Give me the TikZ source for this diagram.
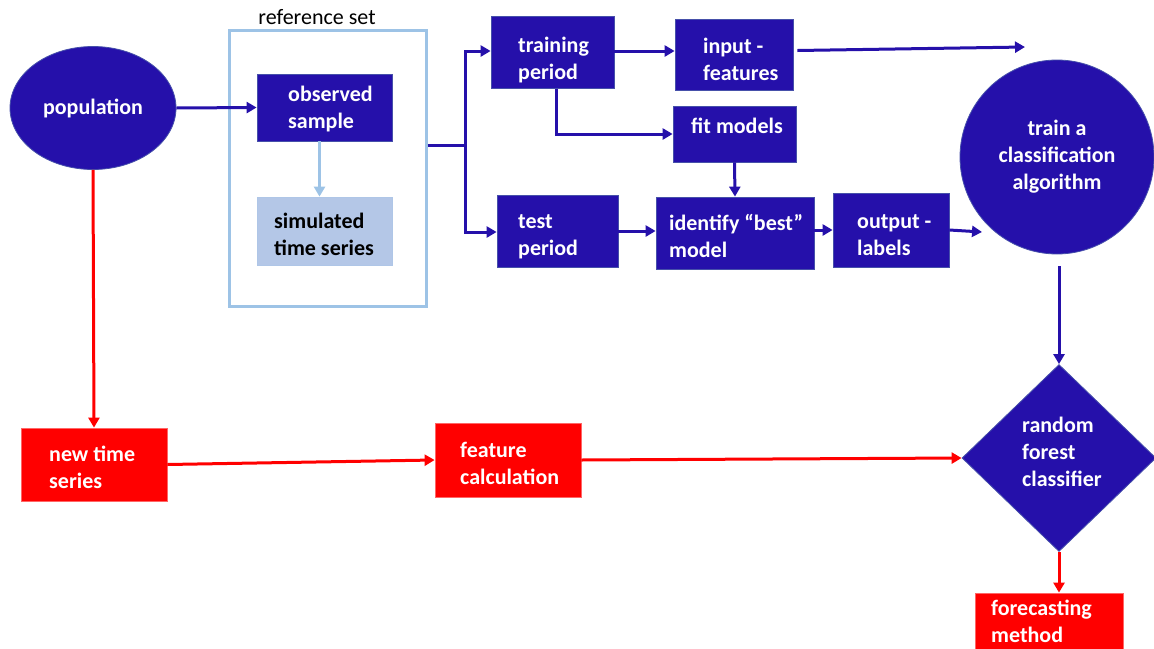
\documentclass[tikz,border=0pt]{standalone}
\usepackage{fontspec}
\setmainfont{Carlito}
\usetikzlibrary{shapes.geometric,arrows.meta,calc}
\definecolor{navy}{RGB}{37,16,170}
\definecolor{navyedge}{RGB}{70,80,170}
\definecolor{lblue}{RGB}{157,195,230}
\definecolor{simfill}{RGB}{180,199,231}
\definecolor{myred}{RGB}{255,0,0}
\tikzset{
  txt/.style={font=\bfseries\fontsize{22}{27}\selectfont, align=left, inner sep=0pt},
  wtxt/.style={txt, text=white, anchor=west},
  bluebox/.style={rectangle, fill=navy, draw=navyedge, line width=0.8pt, inner sep=0pt},
  redbox/.style={rectangle, fill=myred, draw=myred!60!white, line width=0.8pt, inner sep=0pt},
  arr/.style={line width=3pt, -{Triangle[length=10pt,width=11pt]}},
  bluearr/.style={arr, draw=navy},
  redarr/.style={arr, draw=myred},
}
\begin{document}
\begin{tikzpicture}[x=1pt,y=-1pt]
\useasboundingbox (0,0) rectangle (1154,648);
% shapes
\node[txt, ellipse, fill=navy, draw=navyedge, line width=0.8pt, text=white, align=center,
      minimum width=166pt, minimum height=123pt] (pop) at (93,108) {population};
\node[rectangle, draw=lblue, line width=3pt, minimum width=197pt, minimum height=276pt, inner sep=0pt] (ref) at (327.5,168) {};
\node[font=\fontsize{22}{26}\selectfont, inner sep=0pt] (reflab) at (317,17) {reference set};
\node[bluebox, minimum width=135pt, minimum height=67pt] (obs) at (324.5,107.5) {};
\node[rectangle, fill=simfill, draw=simfill!80!lblue, line width=0.8pt, inner sep=0pt,
      minimum width=135pt, minimum height=68pt] (sim) at (324.5,231) {};
\node[bluebox, minimum width=123pt, minimum height=72pt] (train) at (552.5,52) {};
\node[bluebox, minimum width=118pt, minimum height=71pt] (input) at (734,54.5) {};
\node[bluebox, minimum width=123pt, minimum height=56pt] (fit) at (734.5,134) {};
\node[bluebox, minimum width=121pt, minimum height=72pt] (test) at (557.5,231) {};
\node[bluebox, minimum width=158pt, minimum height=72pt] (ident) at (735,233) {};
\node[bluebox, minimum width=116pt, minimum height=74pt] (out) at (891,230) {};
\node[txt, circle, fill=navy, draw=navyedge, line width=0.8pt, text=white, align=center,
      minimum size=194pt] (tc) at (1057,157) {train a\\classification\\algorithm};
\node[diamond, fill=navy, draw=navyedge, line width=0.8pt, inner sep=0pt,
      minimum width=194pt, minimum height=187pt] (rf) at (1059,458) {};
\node[redbox, minimum width=146pt, minimum height=73pt] (newts) at (94,464.5) {};
\node[redbox, minimum width=146pt, minimum height=74pt] (feat) at (508,460) {};
\node[redbox, minimum width=148pt, minimum height=60pt] (fm) at (1049,623) {};
% texts
\node[wtxt] (obs-t) at (288,109) {observed\\sample};
\node[txt, anchor=west, text=black] (sim-t) at (274,234) {simulated\\time series};
\node[wtxt] (train-t) at (518,60) {training\\period};
\node[wtxt] (input-t) at (703,59) {input -\\features};
\node[wtxt] (fit-t) at (691,126) {fit models};
\node[wtxt] (test-t) at (518,237) {test\\period};
\node[wtxt] (ident-t) at (669,236) {identify “best”\\model};
\node[wtxt] (out-t) at (857,235) {output -\\labels};
\node[wtxt] (rf-t) at (1022,451.5) {random\\forest\\classifier};
\node[wtxt] (newts-t) at (49,467) {new time\\series};
\node[wtxt] (feat-t) at (460,463) {feature\\calculation};
\node[wtxt] (fm-t) at (991,621.5) {forecasting\\method};
\coordinate (split) at (465,145);
\coordinate (fc) at (1025,47);
\coordinate (oc) at (982,232);
% connectors
\draw[bluearr] (pop.east) -- (obs.west);
\draw[arr, draw=lblue] ($(obs.south)+(-5,0)$) -- ($(sim.north)+(-5,0)$);
\draw[line width=3pt, navy] (split -| ref.east) -- (split);
\draw[bluearr] (split) |- ($(train.west)+(0,-1)$);
\draw[bluearr] (split) |- ($(test.west)+(0,1)$);
\draw[bluearr] ($(train.east)+(0,-1)$) -- ($(input.west)+(0,-3.5)$);
\draw[bluearr] ($(input.east)+(4,-4)$) -- (fc);
\draw[bluearr] ($(train.south)+(3.5,1)$) |- (fit.west);
\draw[bluearr] (fit.south) -- (ident.north);
\draw[bluearr] (test.east) -- (ident.west |- test.east);
\draw[bluearr] ($(ident.east)+(0,-3)$) -- (out.west);
\draw[bluearr] (out.east) -- (oc);
\draw[bluearr] ($(tc.south)+(2,12)$) -- (rf.north);
\draw[redarr] (pop.south) -- (newts.north);
\draw[redarr] (newts.east) -- (feat.west);
\draw[redarr] (feat.east) -- (rf.west);
\draw[redarr] (rf.south) -- (rf.south |- fm.north);
\end{tikzpicture}
\end{document}
